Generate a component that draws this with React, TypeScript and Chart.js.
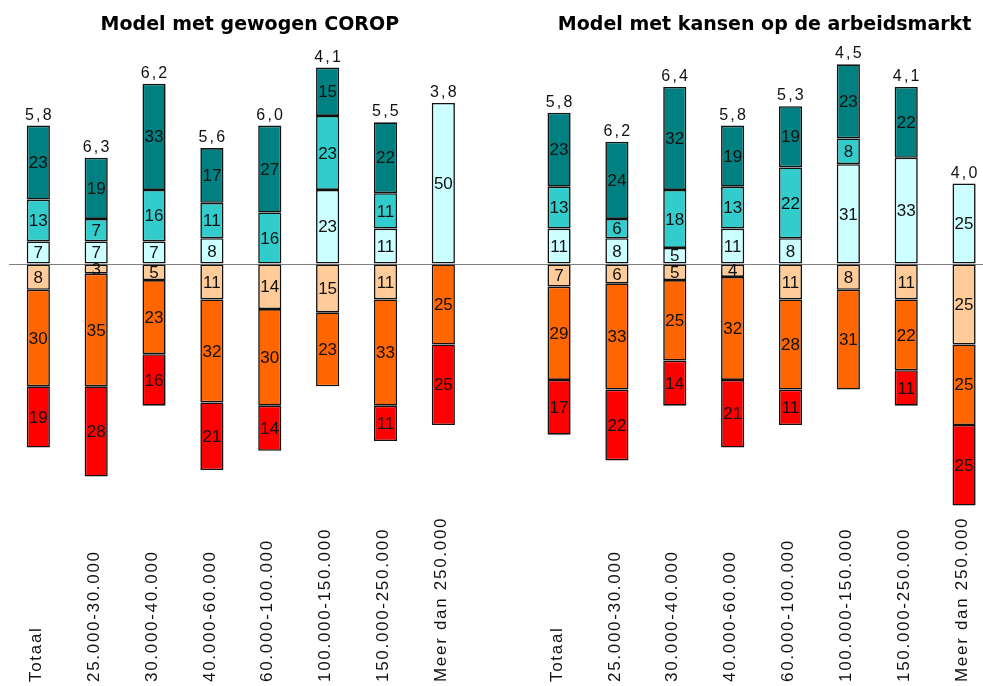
import React, { useEffect, useRef } from "react";
import { Chart, registerables } from "chart.js";

Chart.register(...registerables);

const categories = [
  "Totaal",
  "25.000-30.000",
  "30.000-40.000",
  "40.000-60.000",
  "60.000-100.000",
  "100.000-150.000",
  "150.000-250.000",
  "Meer dan 250.000",
];
const panelTitles = ["Model met gewogen COROP", "Model met kansen op de arbeidsmarkt"];

// Model met gewogen COROP
const coropUp1 = [7, 7, 7, 8, null, 23, 11, 50];
const coropUp2 = [13, 7, 16, 11, 16, 23, 11, null];
const coropUp3 = [23, 19, 33, 17, 27, 15, 22, null];
const coropDown1 = [8, 3, 5, 11, 14, 15, 11, null];
const coropDown2 = [30, 35, 23, 32, 30, 23, 33, 25];
const coropDown3 = [19, 28, 16, 21, 14, null, 11, 25];
const coropScore = ["5,8", "6,3", "6,2", "5,6", "6,0", "4,1", "5,5", "3,8"];

// Model met kansen op de arbeidsmarkt
const kansUp1 = [11, 8, 5, 11, 8, 31, 33, 25];
const kansUp2 = [13, 6, 18, 13, 22, 8, null, null];
const kansUp3 = [23, 24, 32, 19, 19, 23, 22, null];
const kansDown1 = [7, 6, 5, 4, 11, 8, 11, 25];
const kansDown2 = [29, 33, 25, 32, 28, 31, 22, 25];
const kansDown3 = [17, 22, 14, 21, 11, null, 11, 25];
const kansScore = ["5,8", "6,2", "6,4", "5,8", "5,3", "4,5", "4,1", "4,0"];

const colors = ["#CCFFFF", "#33CCCC", "#008080", "#FFCC99", "#FF6600", "#FF0000"];

const join = (a: (number | null)[], b: (number | null)[]) => [...a, null, ...b];
const neg = (a: (number | null)[]) => a.map((v) => (v == null ? null : -v));

const labels = [...categories, "", ...categories];
const scores = [...coropScore, "", ...kansScore];

const seriesUp = [join(coropUp1, kansUp1), join(coropUp2, kansUp2), join(coropUp3, kansUp3)];
const seriesDown = [
  neg(join(coropDown1, kansDown1)),
  neg(join(coropDown2, kansDown2)),
  neg(join(coropDown3, kansDown3)),
];

const TEXT = "#111";

const labelPlugin = {
  id: "labelPlugin",
  afterDatasetsDraw(chart: any) {
    const ctx = chart.ctx as CanvasRenderingContext2D;
    const xs = chart.scales.x;
    const ys = chart.scales.y;
    ctx.save();
    ctx.fillStyle = TEXT;

    // segment values
    ctx.font = "17px 'Liberation Sans', Arial, sans-serif";
    ctx.textAlign = "center";
    ctx.textBaseline = "middle";
    (ctx as any).letterSpacing = "0px";
    chart.data.datasets.forEach((ds: any, i: number) => {
      const meta = chart.getDatasetMeta(i);
      meta.data.forEach((el: any, j: number) => {
        const v = ds.data[j];
        if (v == null) return;
        ctx.fillText(String(Math.abs(v)), el.x, (el.y + el.base) / 2 + 1);
      });
    });

    // scores above bars
    ctx.font = "16px 'Liberation Sans', Arial, sans-serif";
    (ctx as any).letterSpacing = "2.2px";
    ctx.textBaseline = "alphabetic";
    scores.forEach((s, j) => {
      if (!s) return;
      let sum = 0;
      seriesUp.forEach((arr) => (sum += arr[j] ?? 0));
      const top = ys.getPixelForValue(sum);
      ctx.fillText(s, xs.getPixelForValue(j) + 1, top - 6);
    });

    // category labels (rotated, bottom-aligned)
    ctx.font = "17px 'Liberation Sans', Arial, sans-serif";
    (ctx as any).letterSpacing = "1.7px";
    ctx.textAlign = "left";
    ctx.textBaseline = "middle";
    labels.forEach((l, j) => {
      if (!l) return;
      ctx.save();
      ctx.translate(xs.getPixelForValue(j) - 2, 682);
      ctx.rotate(-Math.PI / 2);
      ctx.fillText(l, 0, 0);
      ctx.restore();
    });

    // panel titles
    ctx.font = "bold 19px 'DejaVu Sans', Verdana, sans-serif";
    (ctx as any).letterSpacing = "0px";
    ctx.textAlign = "center";
    ctx.textBaseline = "alphabetic";
    ctx.fillStyle = "#000";
    const leftC = (xs.getPixelForValue(0) + xs.getPixelForValue(7)) / 2 + 9;
    const rightC = (xs.getPixelForValue(9) + xs.getPixelForValue(16)) / 2 + 3;
    ctx.fillText(panelTitles[0], leftC, 30);
    ctx.fillText(panelTitles[1], rightC, 30);
    ctx.restore();
  },
};

export default function App() {
  const ref = useRef<HTMLCanvasElement>(null);
  useEffect(() => {
    if (!ref.current) return;
    const datasets = [
      ...seriesUp.map((d, i) => ({ label: "up" + i, data: d, backgroundColor: colors[i] })),
      ...seriesDown.map((d, i) => ({ label: "down" + i, data: d, backgroundColor: colors[i + 3] })),
    ].map((d) => ({
      ...d,
      borderColor: "#111",
      borderWidth: 1.6,
      borderSkipped: false,
      barPercentage: 0.4,
      categoryPercentage: 1,
      stack: "s",
    }));
    const chart = new Chart(ref.current, {
      type: "bar",
      data: { labels, datasets: datasets as any },
      options: {
        animation: false,
        responsive: false,
        layout: { padding: { left: 9.4, right: 7, top: 38.6, bottom: 164.4 } },
        plugins: { legend: { display: false }, tooltip: { enabled: false }, title: { display: false } },
        scales: {
          x: { stacked: true, display: false },
          y: {
            stacked: true,
            min: -80,
            max: 70,
            ticks: { display: false, stepSize: 10 },
            border: { display: false },
            grid: {
              drawTicks: false,
              lineWidth: 1,
              color: (c: any) => (c.tick && c.tick.value === 0 ? "#808080" : "rgba(0,0,0,0)"),
            },
          },
        },
      },
      plugins: [labelPlugin],
    });
    return () => chart.destroy();
  }, []);
  return (
    <div style={{ position: "fixed", left: 0, top: 0, width: 983, height: 686, overflow: "hidden", background: "#fff" }}>
      <canvas ref={ref} width={1000} height={686} style={{ width: 1000, height: 686, display: "block" }} />
    </div>
  );
}
